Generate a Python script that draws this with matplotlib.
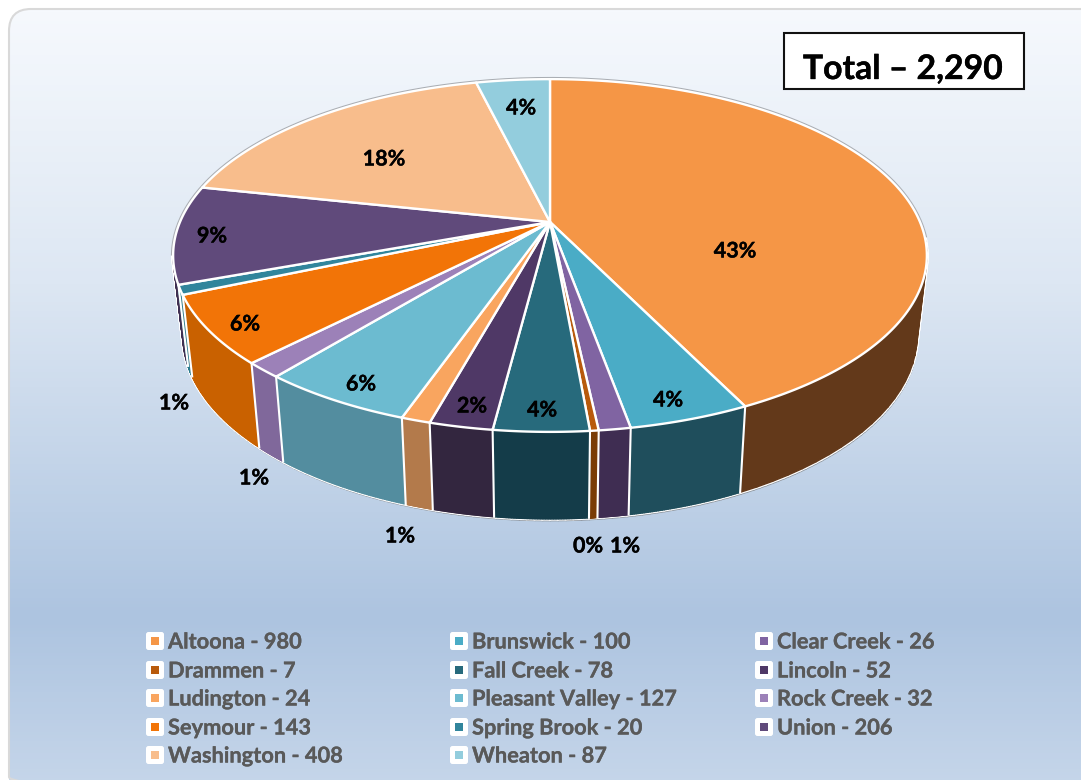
import numpy as np
import matplotlib
matplotlib.use('Agg')
import matplotlib.pyplot as plt
import matplotlib.patheffects as pe
from matplotlib.collections import PolyCollection
from matplotlib.patches import FancyBboxPatch, Polygon, Rectangle

plt.rcParams['font.family'] = ['Lato', 'DejaVu Sans']

names = ['Altoona', 'Brunswick', 'Clear Creek', 'Drammen', 'Fall Creek', 'Lincoln', 'Ludington',
         'Pleasant Valley', 'Rock Creek', 'Seymour', 'Spring Brook', 'Union', 'Washington', 'Wheaton']
values = [980, 100, 26, 7, 78, 52, 24, 127, 32, 143, 20, 206, 408, 87]
pct_labels = ['43%', '4%', '1%', '0%', '4%', '2%', '1%', '6%', '1%', '6%', '1%', '9%', '18%', '4%']
top_colors = ['#f59646', '#4aacc6', '#8064a2', '#b85a0c', '#276a7c', '#4f3866', '#f9a55f',
              '#6cbbd0', '#9c81b8', '#f27407', '#31859c', '#604a7b', '#f8bd8c', '#93cddd']
wall_colors = ['#63391a', '#1f4e5c', '#3f2d52', '#7a3c05', '#143c49', '#33263f', '#b37a4b',
               '#538d9f', '#80689b', '#c96100', '#2a7a8c', '#3f3052', '#b98a62', '#6a9aa6']
label_xy = [(735, 251), (668, 400), (625, 546), (588, 546), (542, 410), (472, 406), (400, 536),
            (361, 384), (254, 478), (245, 324), (174, 403), (212, 236), (384, 159), (521, 108)]

# pie geometry, perspective circle
cx, cy = 550, 222
a, b, k = 370, 170, 0.19


def top_xy(t):
    s = 1 + k * np.cos(t)
    return cx + a * np.sin(t) / s, cy - b * np.cos(t) / s


def bottom_xy(t):
    x, y = top_xy(t)
    return cx + (x - cx) * 0.974, 519 + 1.04 * (y - 432)


def wall_quads(t):
    x1, y1 = top_xy(t)
    x2, y2 = bottom_xy(t)
    return [[(x1[j], y1[j]), (x1[j + 1], y1[j + 1]), (x2[j + 1], y2[j + 1]), (x2[j], y2[j])]
            for j in range(len(t) - 1)]


bold = [pe.withStroke(linewidth=0.25, foreground='black')]
bold_grey = [pe.withStroke(linewidth=0.2, foreground='#595959')]

fig = plt.figure(figsize=(10.81, 7.8), dpi=100)
ax = fig.add_axes([0, 0, 1, 1])
ax.set_xlim(0, 1081)
ax.set_ylim(780, 0)
ax.axis('off')

# background panel
grad = matplotlib.colors.LinearSegmentedColormap.from_list(
    'bg', [(0, '#f6f9fd'), (0.35, '#dde7f3'), (0.78, '#adc4e0'), (1, '#c6d6ea')])
im = ax.imshow(np.linspace(0, 1, 256).reshape(-1, 1), cmap=grad, extent=(9, 1100, 790, 9),
               aspect='auto', zorder=1)
panel = FancyBboxPatch((9, 9), 1100, 790, boxstyle='round,pad=0,rounding_size=22',
                       fc='none', ec='#d9d9d9', lw=1.5, zorder=2)
ax.add_patch(panel)
im.set_clip_path(panel)
ax.set_xlim(0, 1081)
ax.set_ylim(780, 0)

# slice angles, clockwise from 12 o'clock
edges = np.concatenate([[0], np.cumsum(values)]) / sum(values) * 2 * np.pi

# grey shadow, then white outline of the whole drum
tt = np.linspace(0, 2 * np.pi, 361)
quads = np.array(wall_quads(tt))
ax.add_collection(PolyCollection(quads + [0.6, 1.8], facecolors='#8f959c', edgecolors='#8f959c',
                                 linewidths=1, zorder=3))
ax.add_collection(PolyCollection(quads, facecolors='white', edgecolors='white', linewidths=2.6, zorder=3.1))

# walls, back to front
order = sorted(range(len(values)), key=lambda i: bottom_xy((edges[i] + edges[i + 1]) / 2)[1])
for z, i in enumerate(order):
    t = np.linspace(edges[i], edges[i + 1], 60)
    ax.add_collection(PolyCollection(wall_quads(t), facecolors=wall_colors[i], edgecolors=wall_colors[i],
                                     linewidths=1, zorder=4 + z * 0.01))
for e in edges[:-1]:
    x1, y1 = top_xy(e)
    x2, y2 = bottom_xy(e)
    ax.plot([x1, x2], [y1, y2], color='white', lw=1.5, zorder=5)

# grey rim on the back of the top face
back = np.linspace(-1.75, 1.65, 200)
x1, y1 = top_xy(back)
ax.plot(x1, y1, color='#a9adb3', lw=3.2, zorder=5.5)

# top faces
for i in range(len(values)):
    t = np.linspace(edges[i], edges[i + 1], 200)
    x1, y1 = top_xy(t)
    pts = np.column_stack([np.r_[cx, x1], np.r_[cy, y1]])
    ax.add_patch(Polygon(pts, closed=True, fc=top_colors[i], ec='white', lw=1.7,
                         joinstyle='round', zorder=6))

for lab, (x, y) in zip(pct_labels, label_xy):
    ax.text(x, y, lab, fontsize=15.5, fontweight='bold', color='black', ha='center', va='center',
            zorder=8, path_effects=bold)

# total box
ax.add_patch(Rectangle((784, 33), 240, 56, fc='white', ec='#111111', lw=1.5, zorder=8))
ax.text(903, 69, f'Total – {sum(values):,}', fontsize=24.3, fontweight='bold', color='black',
        ha='center', va='center', zorder=9, path_effects=bold)

# legend, three columns
col_x = [146, 450, 755]
row_y = [642, 671, 699, 728, 756]
for i, (n, v) in enumerate(zip(names, values)):
    x = col_x[i % 3]
    y = row_y[i // 3]
    ax.add_patch(FancyBboxPatch((x, y - 10), 18, 18, boxstyle='round,pad=0,rounding_size=2.5',
                                fc='white', ec='none', zorder=8))
    ax.add_patch(Rectangle((x + 5, y - 5), 8, 8, fc=top_colors[i], ec='none', zorder=9))
    ax.text(x + 22, y, f'{n} - {v}', fontsize=15.7, fontweight='bold', color='#595959',
            ha='left', va='center', zorder=9, path_effects=bold_grey)

fig.savefig('out.png', dpi=100)
